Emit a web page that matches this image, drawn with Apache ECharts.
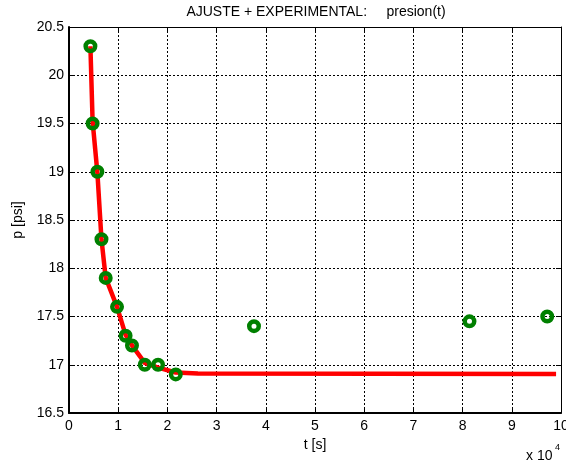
<!DOCTYPE html>
<html>
<head>
<meta charset="utf-8">
<script src="https://cdn.jsdelivr.net/npm/echarts@6/dist/echarts.min.js"></script>
<style>
  html, body { margin: 0; padding: 0; background: #fff; }
  #chart { width: 566px; height: 464px; }
</style>
</head>
<body>
<div id="chart"></div>
<script>
// Experimental pressure readings: time in seconds, pressure in psi
var tExp = [4350, 4800, 5770, 6600, 7460, 9760, 11500, 12800, 15400, 18100, 21700, 37600, 81400, 97200];
var pExp = [20.3, 19.5, 19.0, 18.3, 17.9, 17.6, 17.3, 17.2, 17.0, 17.0, 16.9, 17.4, 17.45, 17.5];

// Fitted pressure curve p(t)
var tFit = [4350, 4800, 5770, 6600, 7460, 9760, 11500, 12800, 15400, 18100, 21700, 26200, 99000];
var pFit = [20.3, 19.52, 18.99, 18.3, 17.9, 17.6, 17.31, 17.2, 17.02, 16.97, 16.92, 16.91, 16.905];

// Axis ticks
var xTicks = [0, 1, 2, 3, 4, 5, 6, 7, 8, 9, 10];          // in units of 10^4 s
var yTicks = [16.5, 17, 17.5, 18, 18.5, 19, 19.5, 20, 20.5];

var FONT = 'Liberation Sans, Arial, Helvetica, sans-serif';
var FS = 14;
var XSCALE = 10000;

function pairs(xs, ys) {
  return xs.map(function (x, i) { return [x, ys[i]]; });
}

var chart = echarts.init(document.getElementById('chart'), null, { renderer: 'canvas' });

var gridDots = { show: true, lineStyle: { color: '#000', width: 1, type: [2, 2] } };

chart.setOption({
  backgroundColor: '#fff',
  animation: false,
  grid: { left: 69, right: 5, top: 27, bottom: 51, containLabel: false, outerBoundsMode: 'none' },
  xAxis: [
    {
      type: 'value',
      position: 'bottom',
      min: xTicks[0] * XSCALE,
      max: xTicks[xTicks.length - 1] * XSCALE,
      interval: XSCALE,
      name: 't [s]',
      nameLocation: 'middle',
      nameGap: 21,
      nameTextStyle: { color: '#000', fontFamily: FONT, fontSize: FS },
      axisLine: { show: true, onZero: false, lineStyle: { color: '#000', width: 2 } },
      axisTick: { show: true, inside: true, length: 5, lineStyle: { color: '#000', width: 1 } },
      axisLabel: {
        color: '#000', fontFamily: FONT, fontSize: FS, margin: 6,
        formatter: function (v) { return String(Math.round(v / XSCALE)); }
      },
      splitLine: gridDots
    },
    {
      type: 'value',
      position: 'top',
      min: xTicks[0] * XSCALE,
      max: xTicks[xTicks.length - 1] * XSCALE,
      interval: XSCALE,
      axisLine: { show: true, onZero: false, lineStyle: { color: '#000', width: 1 } },
      axisTick: { show: true, inside: true, length: 5, lineStyle: { color: '#000', width: 1 } },
      axisLabel: { show: false },
      splitLine: { show: false }
    }
  ],
  yAxis: [
    {
      type: 'value',
      position: 'left',
      min: yTicks[0],
      max: yTicks[yTicks.length - 1],
      interval: 0.5,
      name: 'p [psi]',
      nameLocation: 'middle',
      nameGap: 44,
      nameTextStyle: { color: '#000', fontFamily: FONT, fontSize: FS },
      axisLine: { show: true, onZero: false, lineStyle: { color: '#000', width: 2 } },
      axisTick: { show: true, inside: true, length: 5, lineStyle: { color: '#000', width: 1 } },
      axisLabel: { color: '#000', fontFamily: FONT, fontSize: FS, margin: 5 },
      splitLine: gridDots
    },
    {
      type: 'value',
      position: 'right',
      min: yTicks[0],
      max: yTicks[yTicks.length - 1],
      interval: 0.5,
      axisLine: { show: true, onZero: false, lineStyle: { color: '#000', width: 1 } },
      axisTick: { show: true, inside: true, length: 5, lineStyle: { color: '#000', width: 1 } },
      axisLabel: { show: false },
      splitLine: { show: false }
    }
  ],
  graphic: [
    {
      type: 'text', x: 316, y: 12,
      style: { text: 'AJUSTE + EXPERIMENTAL:     presion(t)', fill: '#000', font: FS + 'px ' + FONT, textAlign: 'center', textVerticalAlign: 'middle' }
    },
    {
      type: 'text', x: 526, y: 456,
      style: { text: 'x 10', fill: '#000', font: FS + 'px ' + FONT, textVerticalAlign: 'middle' }
    },
    {
      type: 'text', x: 555, y: 448,
      style: { text: '4', fill: '#000', font: '9px ' + FONT, textVerticalAlign: 'middle' }
    }
  ],
  series: [
    {
      name: 'ajuste',
      type: 'line',
      xAxisIndex: 0, yAxisIndex: 0,
      data: pairs(tFit, pFit),
      showSymbol: false,
      symbol: 'none',
      smooth: false,
      lineStyle: { color: '#ff0000', width: 4.5, cap: 'butt', join: 'round' },
      z: 2
    },
    {
      name: 'experimental',
      type: 'scatter',
      xAxisIndex: 0, yAxisIndex: 0,
      data: pairs(tExp, pExp),
      symbol: 'circle',
      symbolSize: 9.5,
      itemStyle: { color: 'rgba(0,0,0,0)', borderColor: '#008000', borderWidth: 4.5, opacity: 1 },
      z: 3
    }
  ]
});
</script>
</body>
</html>
